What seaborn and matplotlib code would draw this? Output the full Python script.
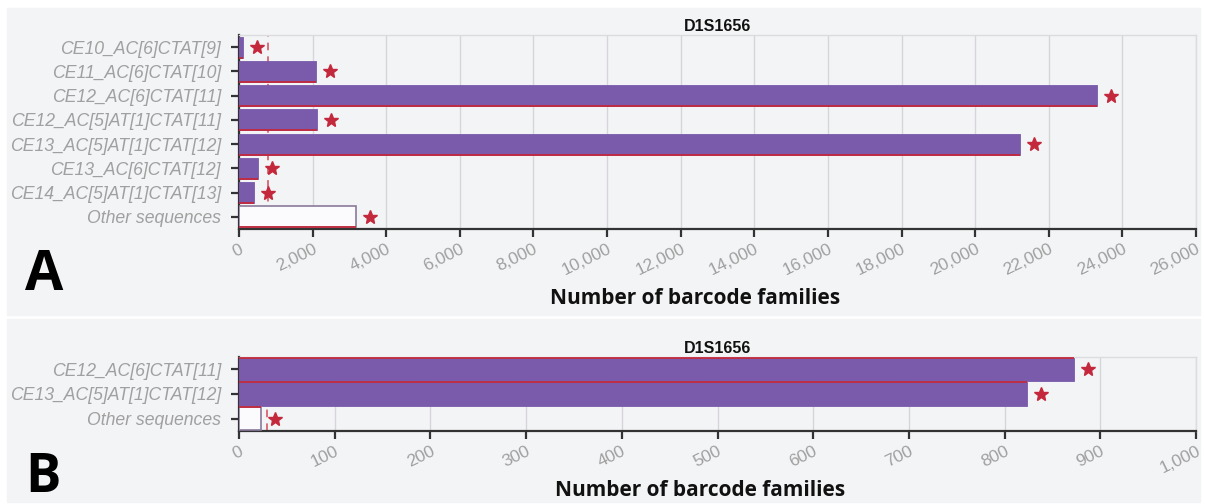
import matplotlib
matplotlib.use("Agg")
import matplotlib.pyplot as plt
import matplotlib.transforms as mtransforms
from matplotlib.patches import Rectangle
from matplotlib.ticker import FuncFormatter, MultipleLocator
import seaborn as sns
import pandas as pd

# Panel A: all called sequences for marker D1S1656
seqs_a = [
    "CE10_AC[6]CTAT[9]",
    "CE11_AC[6]CTAT[10]",
    "CE12_AC[6]CTAT[11]",
    "CE12_AC[5]AT[1]CTAT[11]",
    "CE13_AC[5]AT[1]CTAT[12]",
    "CE13_AC[6]CTAT[12]",
    "CE14_AC[5]AT[1]CTAT[13]",
    "Other sequences",
]
counts_a = [110, 2090, 23300, 2120, 21220, 520, 410, 3180]
threshold_a = 790

# Panel B: filtered sequences for the same marker
seqs_b = [
    "CE12_AC[6]CTAT[11]",
    "CE13_AC[5]AT[1]CTAT[12]",
    "Other sequences",
]
counts_b = [872, 823, 23]
threshold_b = 29

marker_name = "D1S1656"
xlabel = "Number of barcode families"

PURPLE = "#7a5aab"
RED = "#c4283c"
PANEL_BG = "#f3f4f6"
TICK_GRAY = "#a0a0a0"

sns.set_theme(style="white")
plt.rcParams["font.family"] = ["Liberation Sans", "DejaVu Sans"]

fig = plt.figure(figsize=(12.05, 5.04), dpi=100)
fig.patch.set_facecolor("white")

W, H = 1205, 504


def fx(px):
    return px / W


def fy(py):
    return 1 - py / H


# light grey panel backgrounds
fig.patches.append(Rectangle((fx(7), fy(315)), fx(1200) - fx(7), fy(8) - fy(315),
                             transform=fig.transFigure, color=PANEL_BG, zorder=-10))
fig.patches.append(Rectangle((fx(7), fy(502)), fx(1200) - fx(7), fy(319) - fy(502),
                             transform=fig.transFigure, color=PANEL_BG, zorder=-10))


def draw_panel(ax, seqs, counts, threshold, xmax, step, bar_width, red_at_bottom):
    df = pd.DataFrame({"seq": seqs, "count": counts})
    sns.barplot(data=df, x="count", y="seq", orient="h", ax=ax, color=PURPLE,
                saturation=1, width=bar_width, edgecolor=PURPLE, linewidth=0.6,
                zorder=3)
    patches = ax.patches[:len(seqs)]
    # residual category drawn as an outlined, unfilled bar
    other = patches[-1]
    other.set_facecolor("#fbfbfd")
    other.set_edgecolor("#8a7a9c")
    other.set_linewidth(1.2)
    for p in patches:
        yline = p.get_y() + p.get_height() if red_at_bottom else p.get_y()
        ax.hlines(yline, 0, p.get_width(), color=RED, lw=1.3, zorder=4)

    # significance stars just right of each bar end
    star_tf = mtransforms.offset_copy(ax.transData, fig=fig, x=14, y=0, units="dots")
    ax.plot(counts, range(len(seqs)), linestyle="none", marker="*", ms=10.5,
            color=RED, mec=RED, transform=star_tf, zorder=5, clip_on=False)

    ax.axvline(threshold, color="#d24a5a", lw=1.1, ls=(0, (5, 4)), zorder=2)

    ax.set_xlim(0, xmax)
    ax.set_ylim(len(seqs) - 0.5, -0.5)
    ax.xaxis.set_major_locator(MultipleLocator(step))
    ax.xaxis.set_major_formatter(FuncFormatter(lambda v, _: f"{v:,.0f}"))
    ax.set_facecolor(PANEL_BG)
    ax.grid(axis="x", color="#d6d6da", lw=1, zorder=0)
    ax.set_axisbelow(True)
    ax.set_xlabel("")
    ax.set_ylabel("")
    for side in ("top", "right"):
        ax.spines[side].set_color("#dcdce0")
        ax.spines[side].set_linewidth(1)
    for side in ("left", "bottom"):
        ax.spines[side].set_color("#333333")
        ax.spines[side].set_linewidth(1.6)
    ax.tick_params(axis="both", which="major", direction="out", length=6, width=1.6,
                   color="#333333", bottom=True, left=True)
    ax.tick_params(axis="x", labelsize=12.5, labelcolor=TICK_GRAY, pad=3)
    ax.tick_params(axis="y", labelsize=12.7, labelcolor=TICK_GRAY, pad=7)
    for lab in ax.get_xticklabels():
        lab.set_rotation(26)
        lab.set_ha("right")
        lab.set_va("top")
        lab.set_rotation_mode("anchor")
    for lab in ax.get_yticklabels():
        lab.set_fontstyle("italic")
    ax.set_title(marker_name, fontsize=11.5, fontweight="bold", color="#111111", pad=3)


ax_a = fig.add_axes([fx(239), fy(229), fx(1196) - fx(239), fy(35) - fy(229)])
draw_panel(ax_a, seqs_a, counts_a, threshold_a, 26000, 2000, 0.86, True)

ax_b = fig.add_axes([fx(239), fy(431), fx(1196) - fx(239), fy(357) - fy(431)])
draw_panel(ax_b, seqs_b, counts_b, threshold_b, 1000, 100, 0.95, False)

label_font = ["Open Sans", "DejaVu Sans"]
fig.text(fx(695), fy(304), xlabel, ha="center", va="baseline", fontsize=15,
         fontweight="bold", color="#111111", family=label_font)
fig.text(fx(700), fy(496), xlabel, ha="center", va="baseline", fontsize=15,
         fontweight="bold", color="#111111", family=label_font)
fig.text(fx(25), fy(290), "A", ha="left", va="baseline", fontsize=40,
         fontweight="bold", color="#000000", family=label_font)
fig.text(fx(25), fy(492), "B", ha="left", va="baseline", fontsize=38,
         fontweight="bold", color="#000000", family=label_font)

fig.savefig("out.png", dpi=100, facecolor=fig.get_facecolor())
